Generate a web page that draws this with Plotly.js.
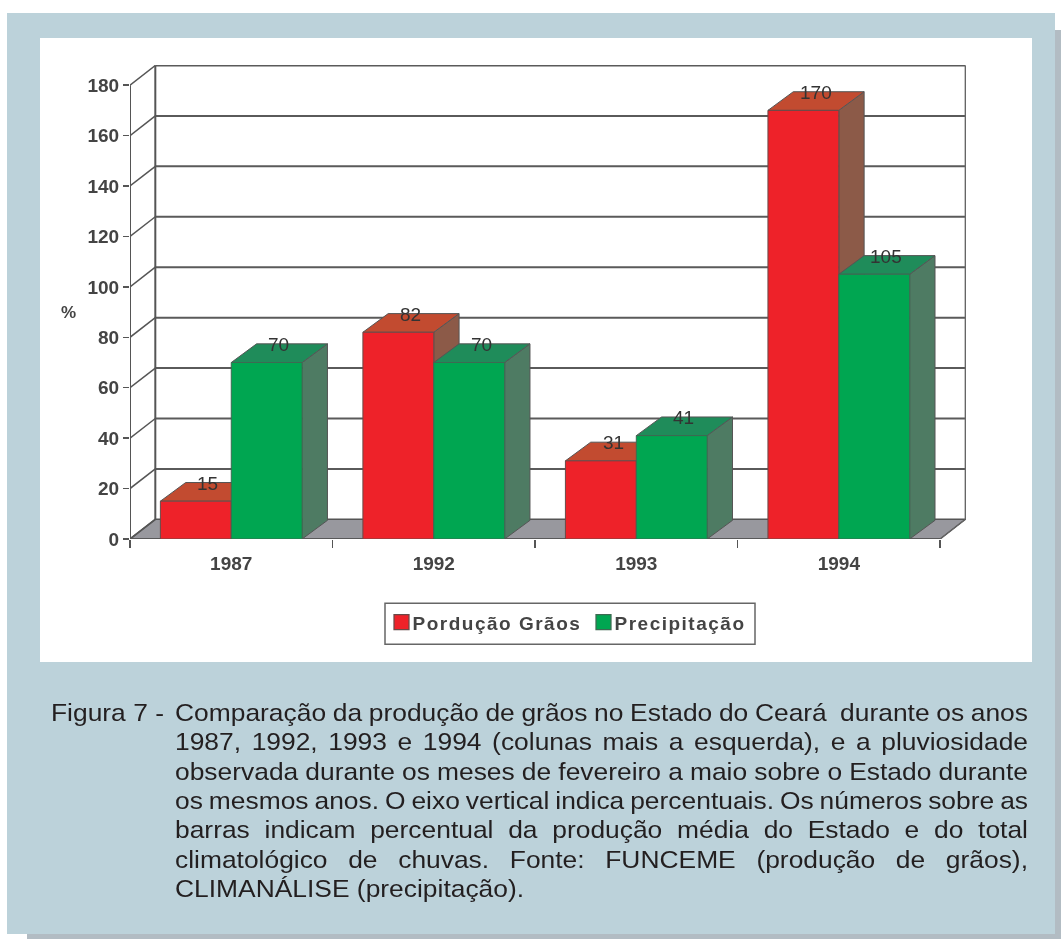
<!DOCTYPE html>
<html><head><meta charset="utf-8">
<script src="https://cdn.plot.ly/plotly-3.0.1.min.js"></script>
<style>
html,body{margin:0;padding:0;background:#fff;width:1061px;height:939px;overflow:hidden}
#shadow{position:absolute;left:27px;top:30px;width:1034px;height:909px;background:#b2bcc3}
#outer{position:absolute;left:7px;top:13px;width:1048px;height:921px;background:#bcd2da}
#inner{position:absolute;left:40px;top:38px;width:992px;height:624px;background:#fff}
#plot{position:absolute;left:0;top:0;width:1061px;height:939px;filter:blur(0.55px)}
#caption{position:absolute;left:0;top:0;width:1061px;font-family:"Liberation Sans",Arial,sans-serif;font-size:24.6px;color:#231f20}
#caption div{position:absolute;white-space:pre;line-height:29px;transform-origin:left center}
.legendtext{letter-spacing:1.5px}
.legendsymbols{transform-box:fill-box;transform-origin:center;transform:translateX(9px) scale(1.25)}
</style></head>
<body>
<div id="shadow"></div><div id="outer"></div><div id="inner"></div>
<div id="plot"></div>
<div id="caption"></div>
<script>
const categories = ['1987','1992','1993','1994'];
const producao = [15, 82, 31, 170];
const precipitacao = [70, 70, 41, 105];
const yTicks = [0,20,40,60,80,100,120,140,160,180];
const captionLabel = 'Figura 7 -';
const captionLines = [
 'Comparação da produção de grãos no Estado do Ceará  durante os anos',
 '1987, 1992, 1993 e 1994 (colunas mais a esquerda), e a pluviosidade',
 'observada durante os meses de fevereiro a maio sobre o Estado durante',
 'os mesmos anos. O eixo vertical indica percentuais. Os números sobre as',
 'barras indicam percentual da produção média do Estado e do total',
 'climatológico de chuvas. Fonte: FUNCEME (produção de grãos),',
 'CLIMANÁLISE (precipitação).'
];

// pseudo-3D depth in axis units
const dx = 0.125, dy = 7.8, bdy = 7.4, barW = 0.35;
const left = -0.5, right = 3.5;
const axisLine = {color:'#555', width:2};
const poly = (pts, fill, line) => ({type:'path', xref:'x', yref:'y', layer:'below',
  path:'M'+pts.map(p=>p[0]+' '+p[1]).join(' L')+' Z', fillcolor:fill, line:line||{color:'#555',width:1}});
const seg = (x0,y0,x1,y1,line) => ({type:'line', xref:'x', yref:'y', layer:'below', x0,y0,x1,y1, line:line||axisLine});

const shapes = [];
shapes.push(poly([[left,0],[right,0],[right+dx,dy],[left+dx,dy]], '#98989e', {color:'#555',width:1.5}));
yTicks.forEach(t=>{
  if(t>0) shapes.push(seg(left+dx,t+dy,right+dx,t+dy,{color:'#5a5a5a',width:2}));
  shapes.push(seg(left,t,left+dx,t+dy,{color:'#555',width:1.5}));
});
shapes.push(seg(left,0,left,180));
shapes.push(seg(left+dx,dy,left+dx,180+dy));
shapes.push(seg(right+dx,dy,right+dx,180+dy,{color:'#666',width:1.5}));
shapes.push(seg(right,0,right+dx,dy,{color:'#666',width:1}));

const annotations = [];
function addBars(vals, offset, topCol, sideCol){
  vals.forEach((v,i)=>{
    const x0=i+offset, x1=x0+barW;
    shapes.push(poly([[x1,0],[x1+dx,bdy],[x1+dx,v+bdy],[x1,v]], sideCol));
    shapes.push(poly([[x0,v],[x1,v],[x1+dx,v+bdy],[x0+dx,v+bdy]], topCol));
    annotations.push({x:x0+barW/2+0.06, y:v+7.1, xref:'x', yref:'y', text:String(v), showarrow:false,
      xanchor:'center', yanchor:'middle', font:{family:'Liberation Sans',size:19,color:'#333'}});
  });
}
addBars(producao, -barW, '#c24b30', '#8c5a48');
addBars(precipitacao, 0, '#1f8c5a', '#4e7b63');
shapes.push(seg(left,0,right,0,{color:'#555',width:1.5}));
annotations.push({xref:'paper', yref:'y', x:-62/836, y:90, xanchor:'center', yanchor:'middle', text:'%', showarrow:false,
  font:{family:'Liberation Sans',size:17,weight:700,color:'#444'}});
// legend frame
shapes.push({type:'rect', xref:'paper', yref:'paper', layer:'above',
  x0:(385-130)/836, x1:(755-130)/836, y0:(538.7-603)/473.7, y1:(538.7-644)/473.7,
  fillcolor:'#fff', line:{color:'#666',width:1.5}});

const axisFont = {family:'Liberation Sans',size:19,weight:700,color:'#444'};
const traces = [
 {type:'bar', name:'Pordução Grãos', x:categories, y:producao, marker:{color:'#ee2229',line:{color:'#6a4a48',width:1}}, hoverinfo:'skip'},
 {type:'bar', name:'Precipitação', x:categories, y:precipitacao, marker:{color:'#00a651',line:{color:'#3d6a52',width:1}}, hoverinfo:'skip'}
];
const layout = {
  width:1061, height:939, autosize:false,
  paper_bgcolor:'rgba(0,0,0,0)', plot_bgcolor:'rgba(0,0,0,0)',
  margin:{l:130,r:95,t:65,b:400.3,pad:0},
  barmode:'group', bargap:0.3, bargroupgap:0,
  xaxis:{type:'category', categoryorder:'array', categoryarray:categories, range:[left,right+dx+0.003],
    tickson:'boundaries', ticks:'outside', ticklen:8, tickwidth:1.5, tickcolor:'#555', ticklabelstandoff:11,
    showgrid:false, zeroline:false, showline:false, tickfont:axisFont, automargin:false},
  yaxis:{range:[0,188], tickvals:yTicks, ticktext:yTicks.map(String), ticks:'outside', ticklen:6, tickwidth:1.5, tickcolor:'#555',
    showgrid:false, zeroline:false, showline:false, tickfont:axisFont, automargin:false},
  shapes, annotations,
  showlegend:true,
  legend:{orientation:'h', x:(372.5-130)/836, y:(538.7-603)/473.7, xanchor:'left', yanchor:'top',
    bgcolor:'rgba(0,0,0,0)', borderwidth:0, traceorder:'normal', entrywidth:157, entrywidthmode:'pixels',
    font:{family:'Liberation Sans',size:19,weight:700,color:'#444'}, itemclick:false, itemdoubleclick:false}
};
Plotly.newPlot('plot', traces, layout, {displayModeBar:false, staticPlot:true});

// caption: the reference type is slightly wide-set; each line fills the measure via word spacing
const cap = document.getElementById('caption');
const top0 = 698, step = 29.3, lineX = 175, measure = 853, stretch = 1.073;
const lab = document.createElement('div');
lab.textContent = captionLabel; lab.style.left='51px'; lab.style.top=top0+'px';
lab.style.transform='scaleX('+stretch+')'; cap.appendChild(lab);
captionLines.forEach((t,i)=>{
  const d=document.createElement('div');
  d.textContent=t;
  d.style.left=lineX+'px'; d.style.top=(top0+i*step)+'px';
  cap.appendChild(d);
  if(i<captionLines.length-1){
    const spaces=(t.match(/ /g)||[]).length;
    d.style.wordSpacing=((measure/stretch-d.getBoundingClientRect().width)/spaces)+'px';
  }
  d.style.transform='scaleX('+stretch+')';
});
</script>
</body></html>
